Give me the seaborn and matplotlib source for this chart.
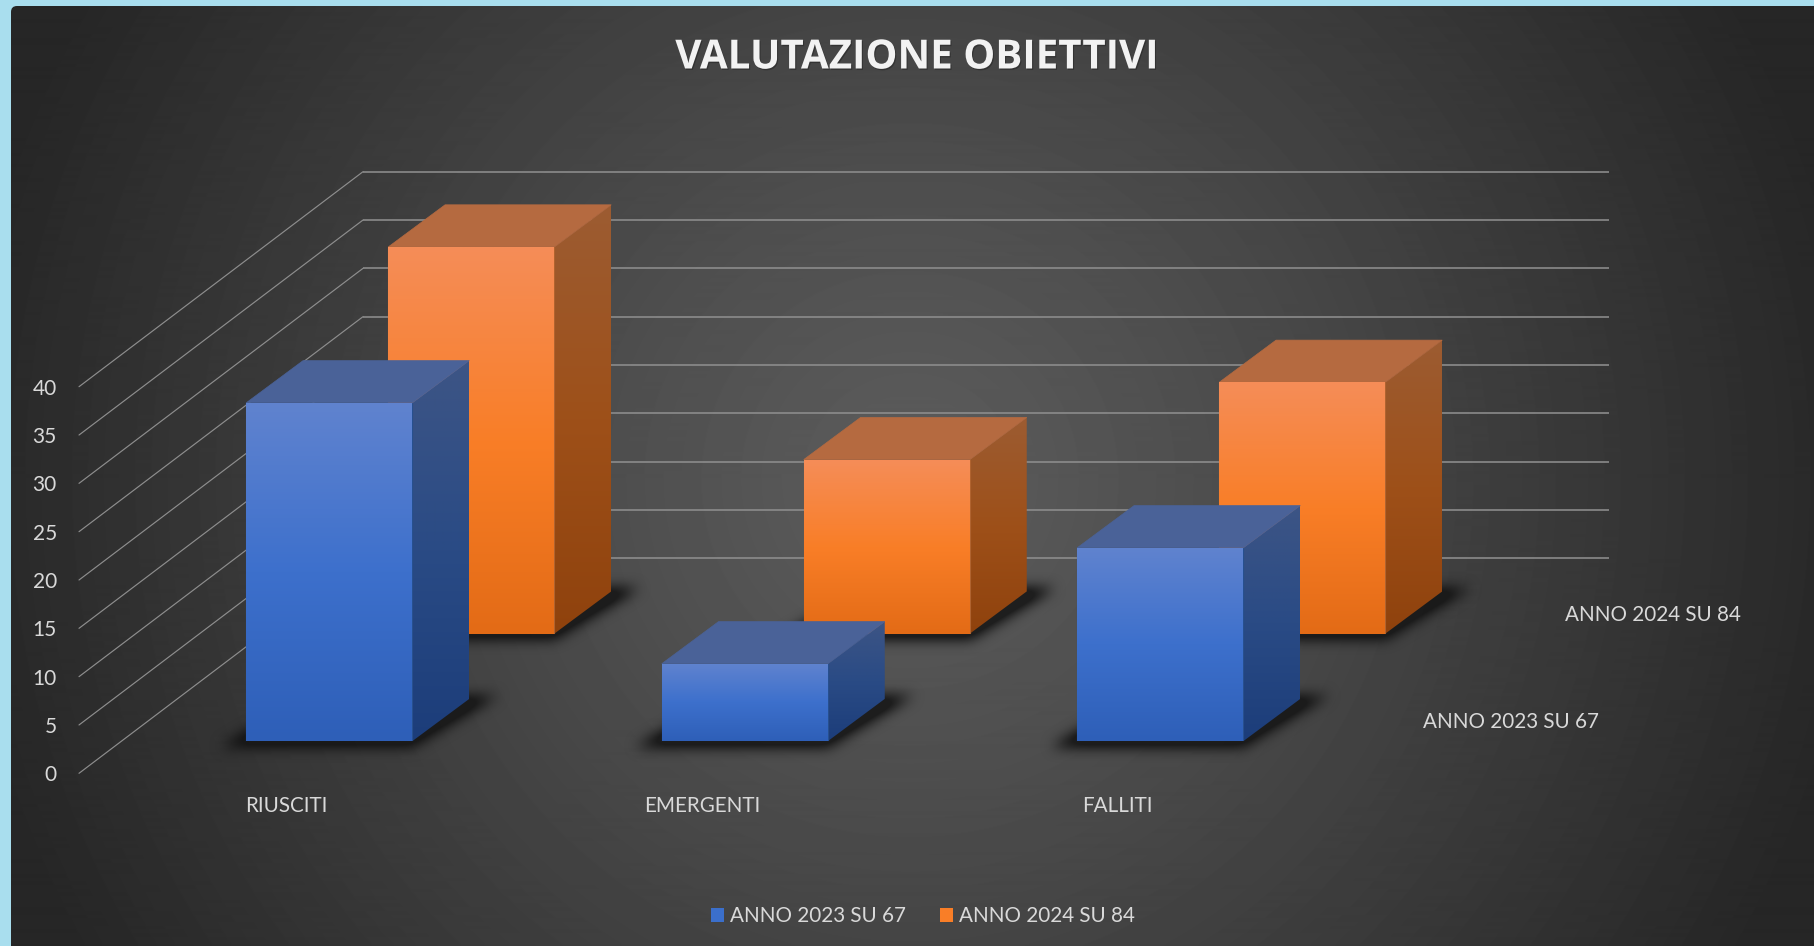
import numpy as np
import pandas as pd
import seaborn as sns
import matplotlib
matplotlib.use("Agg")
import matplotlib.pyplot as plt
import matplotlib.patheffects as pe
from matplotlib.colors import to_rgb
from matplotlib.patches import Polygon, FancyBboxPatch, Patch
from matplotlib.path import Path
from matplotlib.transforms import Affine2D, IdentityTransform

# ---- data ----
categories = ["RIUSCITI", "EMERGENTI", "FALLITI"]
series_names = ["ANNO 2023 SU 67", "ANNO 2024 SU 84"]
values_2023 = [35, 8, 20]
values_2024 = [40, 18, 26]
y_ticks = [0, 5, 10, 15, 20, 25, 30, 35, 40]
title_text = "VALUTAZIONE OBIETTIVI"

# ---- layout (pixels of the 1814x946 canvas) ----
W, H = 1814, 946
L, R, B, T = 79, 1325.5, 773.3, 386.7
DX, DY = 284, 215            # depth vector of the whole floor
BAR_WIDTH = 0.4
BAR_DEPTH_X, BAR_DEPTH_Y = 0.2, 0.196
SLOT_START = [0.15, 0.65]

sns.set_theme(style="white")
plt.rcParams["font.family"] = ["Lato", "DejaVu Sans"]
TXT = "#D9D9D9"

fig = plt.figure(figsize=(W / 100, H / 100), dpi=100, facecolor="#A9DEEE")


def plane_axes(d, z):
    ax = fig.add_axes([(L + d * DX) / W, 1 - (B - d * DY) / H, (R - L) / W, (B - T) / H], zorder=z)
    ax.patch.set_visible(False)
    ax.set_xlim(-0.5, 2.5)
    ax.set_ylim(0, 40)
    for s in ax.spines.values():
        s.set_visible(False)
    return ax


# ---- background: radial dark gradient with rounded corner ----
bg = fig.add_axes([0, 0, 1, 1], zorder=0)
bg.axis("off")
bg.patch.set_visible(False)
yy, xx = np.mgrid[0:H, 0:W]
rad = np.clip(np.hypot(xx - 910, yy - 480) / 960, 0, 1)
shade = (92 - 54 * rad ** 1.15) / 255
im = bg.imshow(shade, cmap="gray", vmin=0, vmax=1, extent=[0, W, H, 0], aspect="auto")
bg.set_xlim(0, W)
bg.set_ylim(H, 0)
clip = FancyBboxPatch((17, 12), W + 40, H + 40, boxstyle="round,pad=6,rounding_size=6",
                      transform=bg.transData, facecolor="none", edgecolor="none")
bg.add_patch(clip)
im.set_clip_path(clip)

# ---- base plane: real axes carrying tick labels ----
base = plane_axes(0, 1)
base.set_yticks(y_ticks)
base.set_yticklabels([str(t) for t in y_ticks])
base.set_xticks(range(len(categories)))
base.set_xticklabels(categories)
base.tick_params(axis="y", length=0, pad=16, labelsize=15, colors=TXT)
base.tick_params(axis="x", length=0, pad=16.6, labelsize=14.9, colors=TXT)

# ---- walls: gridlines ----
GRID = "#8E8E8E"
p0 = base.transData.transform((-0.5, 0))
p1 = base.transData.transform((-0.5, 40))
scale = (p1[1] - p0[1]) / 40
side_tf = Affine2D.from_values(DX, DY, 0, scale, p0[0], p0[1])
for v in y_ticks:
    base.plot([0, 1], [v, v], transform=side_tf, color=GRID, lw=0.85, clip_on=False, zorder=1)
wall = plane_axes(1, 1)
wall.set_xticks([])
wall.set_yticks([])
wall.hlines(y_ticks, -0.5, 2.5, color=GRID, lw=1.15, clip_on=False)

# ---- series labels along the depth axis ----
for name, d in zip(series_names, [0.25, 0.75]):
    base.annotate(name, xy=(2.5, 0),
                  xycoords=base.transData + Affine2D().translate(d * DX, d * DY),
                  xytext=(18.9, -1.8), textcoords="offset points",
                  va="center", ha="left", fontsize=14.85, color=TXT)

# ---- bars ----
df = pd.DataFrame({
    "categoria": categories * 2,
    "serie": [series_names[0]] * 3 + [series_names[1]] * 3,
    "valore": values_2023 + values_2024,
})

STYLE = {
    series_names[0]: dict(base="#3B6FCB", edge="#27508F",
                          front=["#6083CF", "#3D70CC", "#2E5FB8"],
                          side=["#3D5585", "#2A4B85", "#1C3D7A"], top="#4A6298"),
    series_names[1]: dict(base="#F97E27", edge="#B0632F",
                          front=["#F58D58", "#F97E27", "#E36B16"],
                          side=["#9C5C32", "#9E5019", "#8F420D"], top="#B56A40"),
}


def vgrad(colors):
    c = np.array([to_rgb(x) for x in colors])
    t = np.linspace(0, 1, 256)
    stops = np.linspace(0, 1, len(colors))
    return np.stack([np.interp(t, stops, c[:, i]) for i in range(3)], axis=1)[:, None, :]


def blur(a, size):
    k = np.ones(size) / size
    for _ in range(3):
        a = np.apply_along_axis(lambda m: np.convolve(m, k, mode="same"), 0, a)
        a = np.apply_along_axis(lambda m: np.convolve(m, k, mode="same"), 1, a)
    return a


def add_face(ax, poly, colors, z):
    pts = np.asarray(poly)
    x0, y0 = pts.min(axis=0)
    x1, y1 = pts.max(axis=0)
    clip_poly = Polygon(pts, closed=True, transform=IdentityTransform(), facecolor="none", edgecolor="none")
    img = ax.imshow(vgrad(colors), extent=[x0, x1, y0, y1], origin="upper", aspect="auto",
                    transform=IdentityTransform(), zorder=z, interpolation="bilinear")
    img.set_clip_box(fig.bbox)
    img.set_clip_path(clip_poly)


def add_shadow(ax, x0, x1, y0, dx, dy):
    poly = np.array([[x0 - 26, y0 - 6], [x1, y0 - 6], [x1 + dx + 28, y0 + dy + 3], [x0 + dx, y0 + dy]])
    pad = 45
    gx0, gx1 = int(poly[:, 0].min() - pad), int(poly[:, 0].max() + pad)
    gy0, gy1 = int(poly[:, 1].min() - pad), int(poly[:, 1].max() + pad)
    gy, gx = np.mgrid[gy0:gy1, gx0:gx1]
    mask = Path(poly).contains_points(np.c_[gx.ravel(), gy.ravel()]).reshape(gx.shape).astype(float)
    alpha = np.clip(blur(mask, 13) * 1.6, 0, 1) * 0.85
    rgba = np.zeros(mask.shape + (4,))
    rgba[..., 0:3] = 0.08
    rgba[..., 3] = alpha
    img = ax.imshow(rgba, extent=[gx0, gx1, gy0, gy1], origin="lower", aspect="auto",
                    transform=IdentityTransform(), zorder=0.5)
    img.set_clip_box(fig.bbox)


for idx in [1, 0]:  # back series first, so the front series overlaps it
    name = series_names[idx]
    st = STYLE[name]
    d = SLOT_START[idx]
    ax = plane_axes(d, 3 + (1 - idx) * 2)
    sns.barplot(data=df[df["serie"] == name], x="categoria", y="valore", order=categories,
                color=st["base"], width=BAR_WIDTH, saturation=1, edgecolor=st["edge"],
                linewidth=0.8, ax=ax, zorder=3)
    ax.set_xlabel("")
    ax.set_ylabel("")
    ax.set_xticks([])
    ax.set_yticks([])
    dx, dy = BAR_DEPTH_X * DX, BAR_DEPTH_Y * DY
    for bar in list(ax.patches):
        bx0, bv0 = bar.get_x(), bar.get_y()
        bx1, bv1 = bx0 + bar.get_width(), bv0 + bar.get_height()
        (x0, y0), (x1, y1) = ax.transData.transform([(bx0, bv0), (bx1, bv1)])
        add_shadow(ax, x0, x1, y0, dx, dy)
        add_face(ax, [(x0, y0), (x1, y0), (x1, y1), (x0, y1)], st["front"], 4)
        add_face(ax, [(x1, y0), (x1, y1), (x1 + dx, y1 + dy), (x1 + dx, y0 + dy)], st["side"], 2)
        ax.add_artist(Polygon([(x0, y1), (x1, y1), (x1 + dx, y1 + dy), (x0 + dx, y1 + dy)], closed=True,
                              transform=IdentityTransform(), facecolor=st["top"], edgecolor=st["top"],
                              lw=0.5, zorder=2, clip_on=False))
    ax.set_xlim(-0.5, 2.5)
    ax.set_ylim(0, 40)

# ---- legend and title ----
leg_handles = [Patch(facecolor=STYLE[n]["base"], edgecolor="none", label=n) for n in series_names]
leg = fig.legend(handles=leg_handles, loc="center", bbox_to_anchor=(922.5 / W, 1 - 916 / H), ncol=2,
                 frameon=False, fontsize=14.85, labelcolor=TXT, handlelength=0.67, handleheight=0.67,
                 handletextpad=0.25, columnspacing=1.65, borderpad=0, borderaxespad=0)
leg.set_zorder(10)
ttl = fig.text(917 / W, 1 - 58 / H, title_text, ha="center", va="center", fontsize=29,
               fontweight="bold", family=["Open Sans", "DejaVu Sans"], color="#F2F2F2", zorder=10)
ttl.set_path_effects([pe.withSimplePatchShadow(offset=(0.8, -1.0), shadow_rgbFace="#222222", alpha=0.5)])

fig.savefig("out.png", dpi=100, facecolor=fig.get_facecolor())
